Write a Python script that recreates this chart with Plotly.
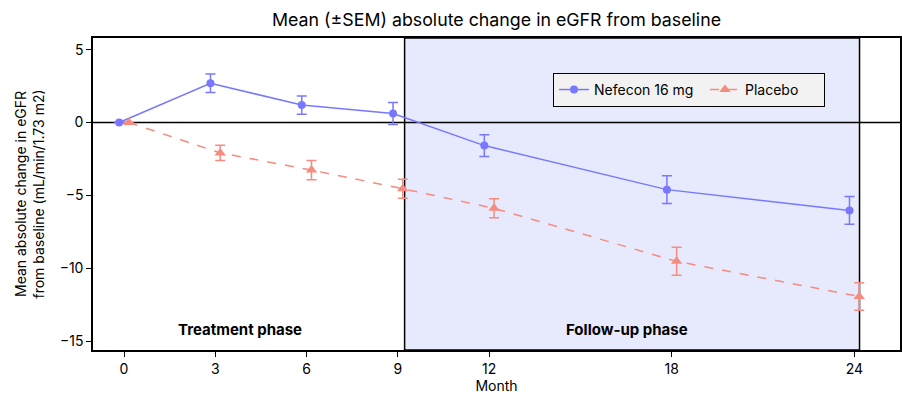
import plotly.graph_objects as go

months = [0, 3, 6, 9, 12, 18, 24]
nefecon_mean = [0.0, 2.7, 1.2, 0.62, -1.58, -4.6, -6.03]
nefecon_sem = [0.0, 0.63, 0.63, 0.75, 0.75, 0.96, 0.95]
placebo_mean = [0.0, -2.08, -3.26, -4.54, -5.88, -9.52, -11.93]
placebo_sem = [0.0, 0.53, 0.66, 0.66, 0.65, 0.96, 0.95]
tick_vals = [0, 3, 6, 9, 12, 18, 24]
y_ticks = [5, 0, -5, -10, -15]
dodge = 0.16
followup_start, followup_end = 9.22, 24.17

blue = "#7878ff"
salmon = "#f68b7f"

fig = go.Figure()
fig.add_trace(go.Scatter(
    x=[m - dodge for m in months], y=nefecon_mean, name="Nefecon 16 mg",
    mode="lines+markers", legendwidth=106,
    line=dict(color=blue, width=1.5),
    marker=dict(color=blue, size=8, symbol="circle"),
    error_y=dict(type="data", array=nefecon_sem, color=blue, thickness=1.5, width=5),
))
fig.add_trace(go.Scatter(
    x=[m + dodge for m in months], y=placebo_mean, name="Placebo",
    mode="lines+markers", legendwidth=74,
    line=dict(color=salmon, width=1.5, dash="dash"),
    marker=dict(color=salmon, size=10, symbol="triangle-up"),
    error_y=dict(type="data", array=placebo_sem, color=salmon, thickness=1.5, width=5),
))

fig.add_shape(type="rect", xref="x", yref="paper", x0=followup_start, x1=followup_end,
              y0=0, y1=1, fillcolor="#e7e9fc", line=dict(color="black", width=1.5), layer="below")
fig.add_shape(type="line", xref="paper", yref="y", x0=0, x1=1, y0=0, y1=0,
              line=dict(color="black", width=1.5), layer="below")

fig.add_annotation(x=3.82, y=-14.2, text="<b>Treatment phase</b>",
                   showarrow=False, font=dict(size=15, color="black"))
fig.add_annotation(x=16.54, y=-14.2, text="<b>Follow-up phase</b>",
                   showarrow=False, font=dict(size=15, color="black"))

fig.update_layout(
    width=902, height=394,
    margin=dict(l=93, r=2, t=38, b=44),
    paper_bgcolor="white", plot_bgcolor="white",
    font=dict(family="Inter, sans-serif", size=14, color="black"),
    title=dict(text="Mean (±SEM) absolute change in eGFR from baseline", x=0.5, xref="paper",
               y=0.949, yref="container", yanchor="middle", font=dict(size=17.8)),
    legend=dict(orientation="h", x=0.57, y=0.888, xanchor="left", yanchor="top",
                bgcolor="#f2f2f2", bordercolor="black", borderwidth=1, font=dict(size=14)),
    showlegend=True,
)
fig.update_xaxes(range=[-1.02, 25.5], tickvals=tick_vals, ticktext=[str(t) for t in tick_vals],
                 showgrid=False, zeroline=False, showline=True, linecolor="black", linewidth=1.5,
                 mirror=True, ticks="outside", ticklen=5, tickcolor="black", automargin=False,
                 tickfont=dict(size=14),
                 title=dict(text="Month", standoff=2, font=dict(size=14)))
fig.update_yaxes(range=[-15.6, 5.8], tickvals=y_ticks, showgrid=False, zeroline=False,
                 showline=True, linecolor="black", linewidth=1.5, mirror=True,
                 ticks="outside", ticklen=5, tickcolor="black", automargin=False,
                 tickfont=dict(size=14),
                 title=dict(text="Mean absolute change in eGFR<br>from baseline (mL/min/1.73 m2)",
                            standoff=12, font=dict(size=14)))

fig.write_html("out.html", config={"displayModeBar": False},
               post_script="document.body.style.margin='0';")
